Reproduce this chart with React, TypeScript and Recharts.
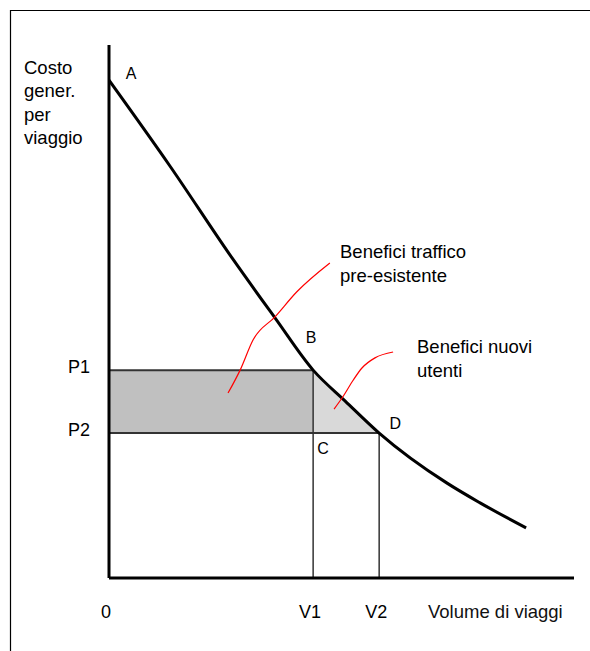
import {
  ComposedChart,
  Line,
  Area,
  XAxis,
  YAxis,
  ReferenceArea,
  ReferenceLine,
  ReferenceDot,
} from "recharts"

// curva del costo generalizzato (unità arbitrarie 0-100)
const curveX = [0, 13.1, 26.5, 35.7, 43.9, 50.8, 58.1, 72.7, 79.8, 89.7]
const curveY = [93.4, 77.3, 60.0, 48.8, 39.0, 33.2, 27.2, 17.8, 14.1, 9.4]

const P1 = 39.0
const P2 = 27.2
const V1 = 43.9
const V2 = 58.1

// tratti rossi a mano libera
const redOneX = [25.6, 28.2, 31.0, 35.7, 40.4, 47.5]
const redOneY = [34.7, 39.0, 44.7, 49.0, 53.7, 59.1]
const redTwoX = [48.4, 50.3, 52.5, 54.4, 57.2, 61.1]
const redTwoY = [31.7, 34.0, 37.1, 39.4, 41.3, 42.4]

const xTicks = [0, V1, V2]
const xTickLabels = ["0", "V1", "V2"]
const yTicks = [P2, P1]
const yTickLabels = ["P2", "P1"]

const yTitle = ["Costo", "gener.", "per", "viaggio"]
const xTitle = "Volume di viaggi"
const noteOld = ["Benefici traffico", "pre-esistente"]
const noteNew = ["Benefici nuovi", "utenti"]

const curveData = curveX.map((x, i) => ({ x, y: curveY[i] }))
const redOne = redOneX.map((x, i) => ({ x, y: redOneY[i] }))
const redTwo = redTwoX.map((x, i) => ({ x, y: redTwoY[i] }))
const triangle = [
  { x: V1, band: [P2, P1] },
  { x: V2, band: [P2, P2] },
]

const FONT = "'Liberation Sans', Arial, sans-serif"

const tag = (text: string, dx: number, dy: number) => (props: any) => {
  const vb = props.viewBox || {}
  const cx = vb.x + (vb.width || 0) / 2
  const cy = vb.y + (vb.height || 0) / 2
  return (
    <text
      x={cx + dx}
      y={cy + dy}
      textAnchor="middle"
      dominantBaseline="central"
      fontFamily={FONT}
      fontSize={16}
      fill="#000"
    >
      {text}
    </text>
  )
}

const XTick = (props: any) => {
  const i = xTicks.indexOf(props.payload.value)
  return (
    <text x={props.x - 3} y={props.y + 32} textAnchor="middle" fontFamily={FONT} fontSize={18} fill="#000">
      {xTickLabels[i]}
    </text>
  )
}

const YTick = (props: any) => {
  const i = yTicks.indexOf(props.payload.value)
  return (
    <text x={props.x - 11} y={props.y + 3} textAnchor="end" fontFamily={FONT} fontSize={18} fill="#000">
      {yTickLabels[i]}
    </text>
  )
}

export default function App() {
  return (
    <div style={{ position: "absolute", left: 0, top: 0, width: 590, height: 651, overflow: "hidden", background: "#fff" }}>
      <ComposedChart width={590} height={651} margin={{ top: 45, right: 16, bottom: 43, left: 49 }}>
        <XAxis
          type="number"
          dataKey="x"
          domain={[0, 100]}
          ticks={xTicks}
          tick={<XTick />}
          tickLine={false}
          axisLine={{ stroke: "#000", strokeWidth: 3 }}
          height={30}
          allowDataOverflow
        />
        <YAxis
          type="number"
          domain={[0, 100]}
          ticks={yTicks}
          tick={<YTick />}
          tickLine={false}
          axisLine={{ stroke: "#000", strokeWidth: 3 }}
          width={60}
          allowDataOverflow
        />
        <ReferenceArea x1={0} x2={V1} y1={P2} y2={P1} fill="#c0c0c0" fillOpacity={1} stroke="none" />
        <Area
          data={triangle}
          dataKey="band"
          type="linear"
          fill="#d9d9d9"
          fillOpacity={1}
          stroke="none"
          isAnimationActive={false}
        />
        <ReferenceLine segment={[{ x: 0, y: P1 }, { x: V1, y: P1 }]} stroke="#333" strokeWidth={2} />
        <ReferenceLine segment={[{ x: 0, y: P2 }, { x: V2, y: P2 }]} stroke="#333" strokeWidth={2} />
        <ReferenceLine segment={[{ x: V1, y: 0 }, { x: V1, y: P1 }]} stroke="#333" strokeWidth={1.5} />
        <ReferenceLine segment={[{ x: V2, y: 0 }, { x: V2, y: P2 }]} stroke="#333" strokeWidth={1.5} />
        <Line
          data={curveData}
          dataKey="y"
          type="monotone"
          stroke="#000"
          strokeWidth={3}
          dot={false}
          isAnimationActive={false}
        />
        <Line
          data={redOne}
          dataKey="y"
          type="monotone"
          stroke="#ff0000"
          strokeWidth={1.2}
          dot={false}
          isAnimationActive={false}
        />
        <Line
          data={redTwo}
          dataKey="y"
          type="monotone"
          stroke="#ff0000"
          strokeWidth={1.2}
          dot={false}
          isAnimationActive={false}
        />
        <ReferenceDot x={curveX[0]} y={curveY[0]} r={1} fill="none" stroke="none" label={tag("A", 22, -7)} />
        <ReferenceDot x={V1} y={P1} r={1} fill="none" stroke="none" label={tag("B", -2, -33)} />
        <ReferenceDot x={V1} y={P2} r={1} fill="none" stroke="none" label={tag("C", 10, 15)} />
        <ReferenceDot x={V2} y={P2} r={1} fill="none" stroke="none" label={tag("D", 16, -10)} />
      </ComposedChart>
      <svg
        width={590}
        height={651}
        style={{ position: "absolute", left: 0, top: 0, pointerEvents: "none" }}
      >
        <path d="M10.5 651 V10.5 H590" fill="none" stroke="#000" strokeWidth={1.2} />
        <g fontFamily={FONT} fontSize={18.5} fill="#000">
          {yTitle.map((t, i) => (
            <text key={t} x={24} y={74 + i * 23.3}>
              {t}
            </text>
          ))}
          <text x={428} y={618} fill="#111">
            {xTitle}
          </text>
          {noteOld.map((t, i) => (
            <text key={t} x={340} y={258 + i * 23.5}>
              {t}
            </text>
          ))}
          {noteNew.map((t, i) => (
            <text key={t} x={417} y={353 + i * 23.5}>
              {t}
            </text>
          ))}
        </g>
      </svg>
    </div>
  )
}
